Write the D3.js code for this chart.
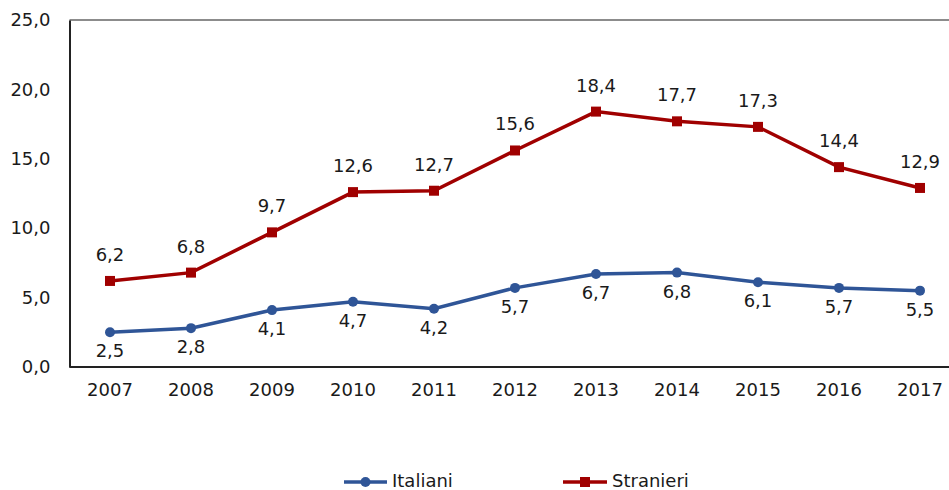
<!DOCTYPE html>
<html><head><meta charset="utf-8">
<script src="https://cdn.jsdelivr.net/npm/d3@7"></script>
<style>body{margin:0;background:#fff}svg{display:block}text{font-family:"DejaVu Sans",sans-serif;fill:#1a1a1a}</style>
</head><body><svg id="c" width="949" height="490"></svg>
<script>
const years = ["2007","2008","2009","2010","2011","2012","2013","2014","2015","2016","2017"];
const italiani = [2.5,2.8,4.1,4.7,4.2,5.7,6.7,6.8,6.1,5.7,5.5];
const stranieri = [6.2,6.8,9.7,12.6,12.7,15.6,18.4,17.7,17.3,14.4,12.9];
const yTicks = [0,5,10,15,20,25];
const seriesNames = ["Italiani","Stranieri"];
const colors = ["#2f5597","#a00000"];

(function(){
const svg = d3.select("#c");
const fs = "18px";
const mLeft = 69.5, mTop = 20, mBottom = 367;
const x = d3.scaleBand().domain(years).range([mLeft, mLeft + 81*11]);
const y = d3.scaleLinear().domain([0,25]).range([mBottom, mTop]);
const fmt = v => d3.format(".1f")(v).replace(".", ",");
const cx = d => x(d) + x.bandwidth()/2;

svg.append("line").attr("x1", mLeft).attr("x2", 949).attr("y1", mTop).attr("y2", mTop)
  .attr("stroke", "#8c8c8c").attr("stroke-width", 2);
const ya = svg.append("g").attr("transform", `translate(${mLeft},0)`)
  .call(d3.axisLeft(y).tickValues(yTicks).tickFormat(fmt).tickSize(0).tickPadding(19));
ya.select(".domain").attr("stroke", "#222").attr("stroke-width", 2);
ya.selectAll("text").style("font-size", fs).attr("fill", "#1a1a1a");
const xa = svg.append("g").attr("transform", `translate(0,${mBottom})`)
  .call(d3.axisBottom(x).tickSize(0).tickPadding(16));
xa.select(".domain").attr("stroke", "#222").attr("stroke-width", 2).attr("d", `M${mLeft},0H949`);
xa.selectAll("text").style("font-size", fs).attr("fill", "#1a1a1a");

const line = d3.line().x((d,i) => cx(years[i])).y(d => y(d));
[italiani, stranieri].forEach((vals, s) => {
  svg.append("path").datum(vals).attr("d", line).attr("fill", "none")
    .attr("stroke", colors[s]).attr("stroke-width", 3.5);
  vals.forEach((v,i) => {
    if (s === 0) svg.append("circle").attr("cx", cx(years[i])).attr("cy", y(v)).attr("r", 5).attr("fill", colors[s]);
    else svg.append("rect").attr("x", cx(years[i]) - 5).attr("y", y(v) - 5).attr("width", 10).attr("height", 10).attr("fill", colors[s]);
    svg.append("text").attr("x", cx(years[i])).attr("y", s === 0 ? y(v) + 25 : y(v) - 20)
      .attr("text-anchor", "middle").style("font-size", fs).text(fmt(v));
  });
});

const leg = [{x0:344, x1:387, tx:392}, {x0:563, x1:607, tx:612}];
leg.forEach((l, s) => {
  const yy = 482, m = (l.x0 + l.x1)/2;
  svg.append("line").attr("x1", l.x0).attr("x2", l.x1).attr("y1", yy).attr("y2", yy)
    .attr("stroke", colors[s]).attr("stroke-width", 3.5);
  if (s === 0) svg.append("circle").attr("cx", m).attr("cy", yy).attr("r", 5).attr("fill", colors[s]);
  else svg.append("rect").attr("x", m-5).attr("y", yy-5).attr("width", 10).attr("height", 10).attr("fill", colors[s]);
  svg.append("text").attr("x", l.tx).attr("y", yy + 5).style("font-size", fs).text(seriesNames[s]);
});
})();
</script></body></html>
